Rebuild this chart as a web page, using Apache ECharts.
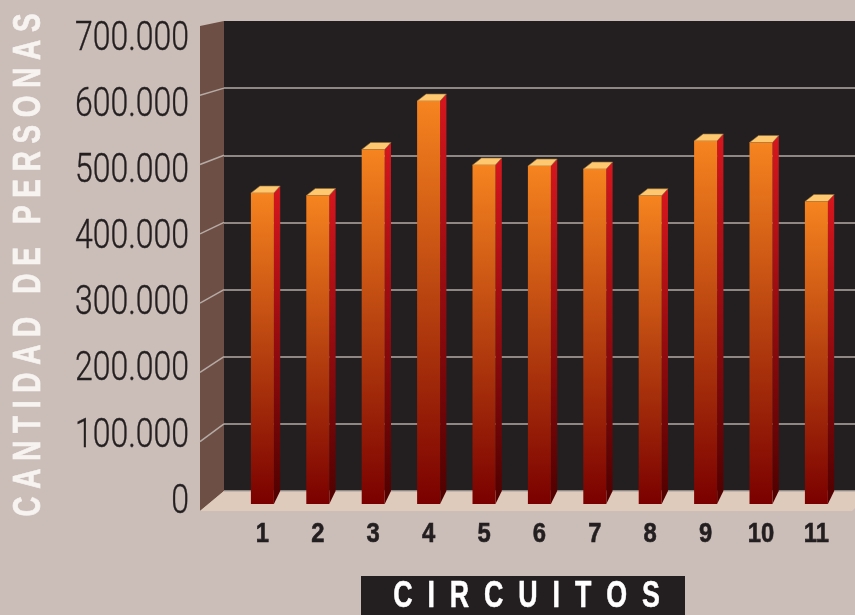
<!DOCTYPE html>
<html>
<head>
<meta charset="utf-8">
<style>
  html, body { margin: 0; padding: 0; background: #cbbdb7; }
  #chart { width: 855px; height: 615px; }
</style>
<script src="https://cdn.jsdelivr.net/npm/echarts@6/dist/echarts.min.js"></script>
</head>
<body>
<div id="chart"></div>
<script>
var categories = ['1', '2', '3', '4', '5', '6', '7', '8', '9', '10', '11'];
var personas = [454000, 450400, 517500, 588300, 494900, 493400, 489000, 450000, 530000, 527700, 441600];
var yTicks = [0, 100000, 200000, 300000, 400000, 500000, 600000, 700000];
var yTickLabels = ['0', '100.000', '200.000', '300.000', '400.000', '500.000', '600.000', '700.000'];
var wallTicks = [100000, 200000, 300000, 400000, 500000, 600000];

var chart = echarts.init(document.getElementById('chart'));
var boldFont = '"Liberation Sans", Arial, sans-serif';

// bar box drawn in the front plane of the floor, with its category number under it
function renderBar(params, api) {
  var top = api.coord([api.value(0), api.value(1)]);
  var base = api.coord([api.value(0), 0]);
  var w = api.size([1, 0])[0] * 0.415;
  var l = top[0] - w / 2, r = top[0] + w / 2;
  return {
    type: 'group',
    children: [
      {
        type: 'polygon',
        shape: { points: [[r, top[1]], [r + 6.3, top[1] - 7], [r + 6.3, base[1] - 13], [r, base[1]]] },
        style: {
          fill: new echarts.graphic.LinearGradient(0, 0, 0, 1, [
            { offset: 0, color: '#d7161e' },
            { offset: 1, color: '#4f0000' }
          ])
        }
      },
      {
        type: 'polygon',
        shape: { points: [[l, top[1]], [l + 9, top[1] - 7], [r + 6.3, top[1] - 7], [r, top[1]]] },
        style: { fill: '#fdc86f', stroke: '#8a6a3c', lineWidth: 0.6 }
      },
      {
        type: 'rect',
        shape: { x: l, y: top[1], width: w, height: base[1] - top[1] },
        style: {
          fill: new echarts.graphic.LinearGradient(0, 0, 0, 1, [
            { offset: 0, color: '#f6841f' },
            { offset: 1, color: '#7a0000' }
          ])
        }
      },
      {
        type: 'text', x: top[0], y: base[1] + 30, scaleX: 0.85,
        style: {
          text: categories[params.dataIndex], fill: '#231f20', align: 'center', verticalAlign: 'middle',
          font: 'bold 28px ' + boldFont, stroke: '#231f20', lineWidth: 0.6
        }
      }
    ]
  };
}

// slanted gridline on the left wall, follows the back wall tick
function renderWallLine(params, api) {
  var p = api.coord([0, api.value(0)]);
  var frontY = 511 - (491 - p[1]) * 485 / 470;
  return {
    type: 'line',
    shape: { x1: p[0], y1: p[1], x2: p[0] - 24, y2: frontY },
    style: { stroke: '#b5aba5', lineWidth: 1.5 }
  };
}

// condensed tick label, no condensed face installed so the text is squeezed
function renderTickLabel(params, api) {
  var p = api.coord([0, api.value(0)]);
  return {
    type: 'text', x: p[0], y: p[1], scaleX: 0.78,
    style: {
      text: yTickLabels[params.dataIndex], fill: '#231f20', align: 'right', verticalAlign: 'middle',
      font: '300 41px Roboto, sans-serif', stroke: '#231f20', lineWidth: 0.4
    }
  };
}

var option = {
  backgroundColor: '#cbbdb7',
  animation: false,
  grid: [
    { left: 234.7, width: 609.4, top: 24.5, height: 479.5 }, // bars
    { left: 224, right: 0, top: 21, height: 470 },           // back wall
    { left: 189, width: 10, top: 39.5, height: 463 }         // tick labels
  ],
  xAxis: [
    { type: 'category', gridIndex: 0, data: categories, show: false },
    { type: 'value', gridIndex: 1, min: 0, max: 1, show: false },
    { type: 'value', gridIndex: 2, min: 0, max: 1, show: false }
  ],
  yAxis: [
    { type: 'value', gridIndex: 0, min: 0, max: 700000, show: false },
    {
      type: 'value', gridIndex: 1, min: 0, max: 700000, interval: 100000,
      axisLine: { show: false }, axisTick: { show: false }, axisLabel: { show: false },
      splitLine: { showMaxLine: false, lineStyle: { color: '#b5aba5', width: 1.5 } }
    },
    { type: 'value', gridIndex: 2, min: 0, max: 700000, show: false }
  ],
  graphic: [
    { type: 'polygon', z: -5, shape: { points: [[224, 21], [855, 21], [855, 491], [224, 491]] }, style: { fill: '#231f20' } },
    { type: 'polygon', z: -5, shape: { points: [[200, 26], [224, 21], [224, 491], [200, 511]] }, style: { fill: '#6e4f45' } },
    { type: 'polygon', z: -5, shape: { points: [[200, 511], [224, 491], [855, 491], [855, 508], [852, 511]] }, style: { fill: '#dfcbbb' } },
    { type: 'rect', z: 5, shape: { x: 361, y: 576, width: 324, height: 39 }, style: { fill: '#231f20' } },
    {
      type: 'text', z: 6, x: 526.5, y: 597.5, scaleX: 0.745,
      style: {
        text: 'C  I  R  C  U  I  T  O  S', fill: '#ffffff', align: 'center', verticalAlign: 'middle',
        font: 'bold 36px ' + boldFont, stroke: '#ffffff', lineWidth: 0.5
      }
    },
    {
      type: 'text', z: 6, x: 29.5, y: 265, rotation: Math.PI / 2, scaleX: 0.733,
      style: {
        text: 'C A N T I D A D   D E   P E R S O N A S', fill: '#f7f3f0', align: 'center', verticalAlign: 'middle',
        font: 'bold 38px ' + boldFont, stroke: '#f7f3f0', lineWidth: 0.7
      }
    }
  ],
  series: [
    {
      type: 'custom', xAxisIndex: 1, yAxisIndex: 1, z: 1, silent: true,
      encode: { y: 0 }, data: wallTicks, renderItem: renderWallLine
    },
    {
      type: 'custom', xAxisIndex: 2, yAxisIndex: 2, z: 1, silent: true,
      encode: { y: 0 }, data: yTicks, renderItem: renderTickLabel
    },
    {
      type: 'custom', xAxisIndex: 0, yAxisIndex: 0, z: 3,
      encode: { x: 0, y: 1 },
      data: categories.map(function (c, i) { return [i, personas[i]]; }),
      renderItem: renderBar
    }
  ]
};
chart.setOption(option);
</script>
</body>
</html>
